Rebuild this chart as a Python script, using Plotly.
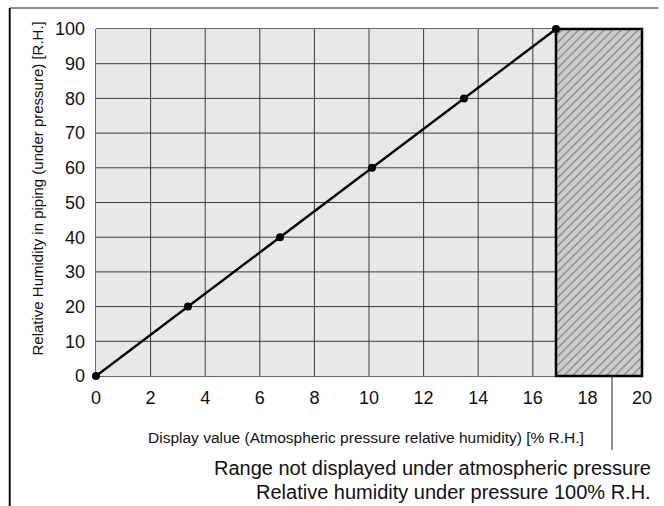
import plotly.graph_objects as go

# display value (atmospheric pressure RH) vs RH in piping under pressure
display_value = [0, 3.37, 6.74, 10.11, 13.48, 16.85]
rh_in_piping = [0, 20, 40, 60, 80, 100]

x_ticks = [0, 2, 4, 6, 8, 10, 12, 14, 16, 18, 20]
y_ticks = [0, 10, 20, 30, 40, 50, 60, 70, 80, 90, 100]

display_limit = 16.85   # display value reached at 100% R.H. in piping
x_max = 20
y_max = 100

font_main = "Liberation Sans, Arial, Helvetica, sans-serif"

fig = go.Figure()

# hatched "not displayed" range
fig.add_trace(go.Bar(
    x=[(display_limit + x_max) / 2], y=[y_max], width=[x_max - display_limit],
    marker=dict(color="#cdcdcd",
                pattern=dict(shape="/", fgcolor="#333333", bgcolor="#cdcdcd",
                             size=6, solidity=0.2),
                line=dict(width=0)),
    hoverinfo="skip", showlegend=False,
))

fig.add_trace(go.Scatter(
    x=display_value, y=rh_in_piping, mode="lines+markers",
    line=dict(color="black", width=2.5),
    marker=dict(color="black", size=8),
    cliponaxis=False, showlegend=False,
))

lim = display_limit / x_max  # paper position of display limit

shapes = [dict(type="rect", xref="x", yref="y", x0=0, x1=display_limit, y0=0, y1=y_max,
               fillcolor="#e7e8e8", line=dict(width=0), layer="below")]
for xv in x_ticks:
    if 0 < xv < display_limit:
        shapes.append(dict(type="line", xref="x", yref="y", x0=xv, x1=xv, y0=0, y1=y_max,
                           line=dict(color="#3a3a3a", width=1), layer="below"))
for yv in y_ticks:
    if 0 < yv < y_max:
        shapes.append(dict(type="line", xref="x", yref="y", x0=0, x1=display_limit, y0=yv, y1=yv,
                           line=dict(color="#3a3a3a", width=1), layer="below"))
# border of grid area (paper refs so they are not clipped)
shapes += [
    dict(type="line", xref="paper", yref="paper", x0=0, x1=0, y0=0, y1=1, line=dict(color="#333", width=1.5), layer="below"),
    dict(type="line", xref="paper", yref="paper", x0=0, x1=lim, y0=0, y1=0, line=dict(color="#333", width=1.5), layer="below"),
    dict(type="line", xref="paper", yref="paper", x0=0, x1=lim, y0=1, y1=1, line=dict(color="#333", width=1.5), layer="below"),
    # outline of hatched range
    dict(type="rect", xref="paper", yref="paper", x0=lim, x1=1, y0=0, y1=1,
         line=dict(color="black", width=2.5), fillcolor="rgba(0,0,0,0)", layer="above"),
    # leader line to note
    dict(type="line", xref="x", yref="paper", x0=18.9, x1=18.9, y0=0, y1=-0.213, line=dict(color="#222", width=1)),
    # outer frame
    dict(type="line", xref="paper", yref="paper", x0=-0.158, x1=1.03, y0=1.0605, y1=1.0605, line=dict(color="#666", width=1.5)),
    dict(type="line", xref="paper", yref="paper", x0=-0.158, x1=-0.158, y0=1.0605, y1=-0.38, line=dict(color="#111", width=2)),
]

annotations = [
    dict(text="Relative Humidity in piping (under pressure) [R.H.]", xref="paper", yref="paper",
         x=-0.107, y=0.539, xanchor="center", yanchor="middle", textangle=-90, showarrow=False,
         font=dict(family=font_main, size=15, color="#111")),
    dict(text="Display value (Atmospheric pressure relative humidity) [% R.H.]", xref="paper", yref="paper",
         x=0.495, y=-0.176, xanchor="center", yanchor="middle", showarrow=False,
         font=dict(family=font_main, size=15.5, color="#111")),
    dict(text="Range not displayed under atmospheric pressure", xref="paper", yref="paper",
         x=1.02, y=-0.265, xanchor="right", yanchor="middle", showarrow=False,
         font=dict(family=font_main, size=20, color="#111")),
    dict(text="Relative humidity under pressure 100% R.H.", xref="paper", yref="paper",
         x=1.02, y=-0.334, xanchor="right", yanchor="middle", showarrow=False,
         font=dict(family=font_main, size=20, color="#111")),
]

fig.update_layout(
    width=664, height=506,
    margin=dict(l=96, r=16, t=29, b=130),
    paper_bgcolor="white", plot_bgcolor="white",
    shapes=shapes, annotations=annotations,
    font=dict(family=font_main, size=18, color="#111"),
    xaxis=dict(range=[0, x_max], tickvals=x_ticks, showgrid=False, zeroline=False,
               showline=False, ticks="", ticklabelstandoff=9, fixedrange=True),
    yaxis=dict(range=[0, y_max], tickvals=y_ticks, showgrid=False, zeroline=False,
               showline=False, ticks="", ticklabelstandoff=10, fixedrange=True),
    bargap=0,
)

fig.write_html("out.html", config={"displayModeBar": False},
               post_script="document.body.style.margin='0';")
